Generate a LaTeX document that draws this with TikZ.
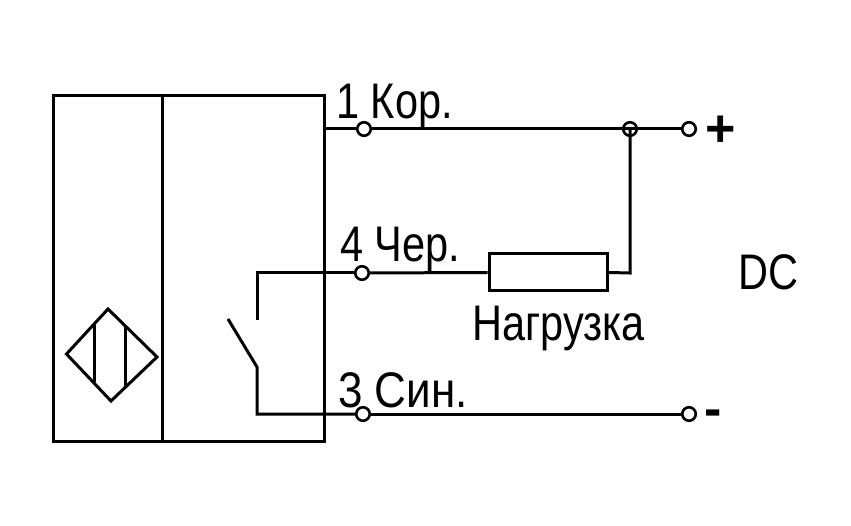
\documentclass[tikz,border=0pt]{standalone}
\usepackage{fontspec}
\setmainfont{Liberation Sans}
\begin{document}
\begin{tikzpicture}[x=1pt,y=-1pt,line width=3pt,line join=miter,
    terminal/.style={circle,draw,fill=white,line width=2.6pt,inner sep=0pt,minimum size=13.5pt},
    junction/.style={circle,draw,line width=2.6pt,inner sep=0pt,minimum size=13.5pt},
    load/.style={rectangle,draw,fill=white,inner sep=0pt,minimum width=118pt,minimum height=37pt},
    wirelabel/.style={inner sep=0pt,anchor=base west,font=\fontsize{50pt}{50pt}\selectfont,xscale=0.83}]
    \useasboundingbox (0,0) rectangle (851,526);
    % housing
    \coordinate (boxTL) at (53,96);
    \coordinate (boxBR) at (324,441);
    \coordinate (divT) at (162,96);
    \coordinate (divB) at (162,441);
    \draw (boxTL) rectangle (boxBR);
    \draw (divT) -- (divB);
    % sensing element
    \coordinate (senL) at (66.5,354);
    \coordinate (senT) at (108,309);
    \coordinate (senR) at (157,357);
    \coordinate (senB) at (111,401);
    \coordinate (barAt) at (94,325);
    \coordinate (barAb) at (94,382);
    \coordinate (barBt) at (125,327);
    \coordinate (barBb) at (125,387);
    \draw (senL) -- (senT) -- (senR) -- (senB) -- cycle;
    \draw (barAt) -- (barAb);
    \draw (barBt) -- (barBb);
    % terminals
    \node[terminal] (t1) at (364,129) {};
    \node[terminal] (t4) at (362,273) {};
    \node[terminal] (t3) at (363,414) {};
    \node[terminal] (plus) at (689,129) {};
    \node[terminal] (minus) at (689,414) {};
    \node[load] (res) at (548,272.5) {};
    \coordinate (out1) at (324,129);
    \coordinate (sw4) at (257,273);
    \coordinate (swa) at (257,320);
    \coordinate (swb) at (257,367);
    \coordinate (swc) at (228,319);
    \coordinate (sw3) at (257,414);
    \coordinate (res4) at (630,273);
    \node[junction] (jn) at (630,129) {};
    % wires
    \draw (out1) -- (t1);
    \draw (t1) -- (plus);
    \draw (jn.center) -- (res4) -- (res.east);
    \draw (swa) -- (sw4) -- (t4);
    \draw (t4) -- (res.west);
    \draw (swc) -- (swb) -- (sw3) -- (t3);
    \draw (t3) -- (minus);
    % labels
    \node[wirelabel] (lab1) at (335,119) {1 Кор.};
    \node[wirelabel] (lab4) at (339,262) {4 Чер.};
    \node[wirelabel,xscale=1.06] (lab3) at (337,407) {3 Син.};
    \node[wirelabel] (labload) at (471,341) {Нагрузка};
    \node[wirelabel] (labdc) at (737,290) {DC};
    \node[inner sep=0pt,font=\bfseries\fontsize{52pt}{52pt}\selectfont] (labplus) at (721,131) {+};
    \node[inner sep=0pt,font=\bfseries\fontsize{52pt}{52pt}\selectfont] (labminus) at (713,418) {-};
\end{tikzpicture}
\end{document}
